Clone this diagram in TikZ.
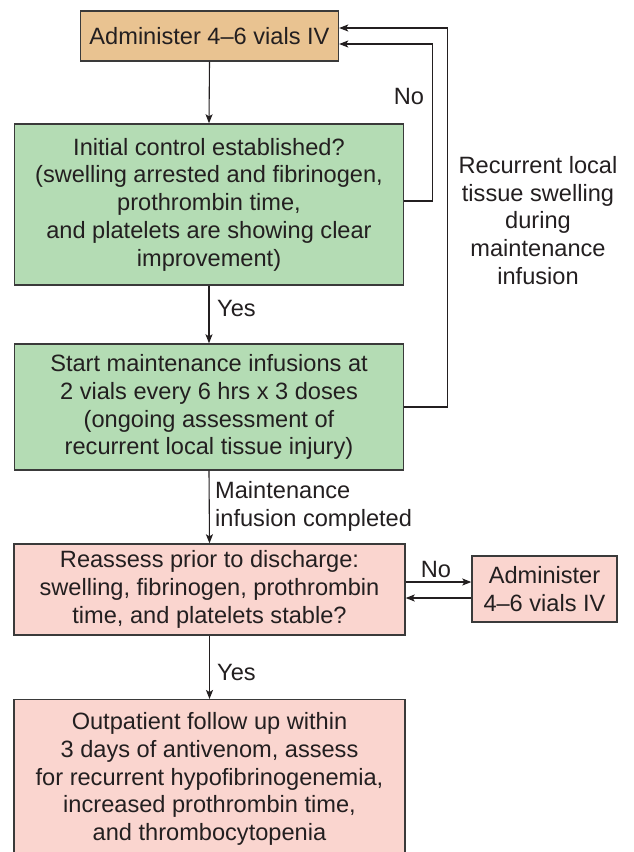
\documentclass[tikz,border=0pt]{standalone}
\usepackage{fontspec}
\setmainfont{Liberation Sans}
\usetikzlibrary{arrows.meta,calc}
\definecolor{orangefill}{HTML}{E9C391}
\definecolor{greenfill}{HTML}{B4DCB4}
\definecolor{pinkfill}{HTML}{FAD5CF}
\definecolor{ink}{HTML}{231F20}
\definecolor{edge}{HTML}{3A3A3A}
\begin{document}
\begin{tikzpicture}[x=1pt,y=-1pt,
  every node/.style={text=ink,font=\fontsize{23.6}{27.8}\selectfont},
  box/.style={draw=edge,line width=1.4pt,inner sep=0pt,align=center,minimum width=#1},
  arr/.style={draw=ink,line width=1.1pt,-{Stealth[length=9pt,width=7pt,inset=2pt]}},
  lbl/.style={inner sep=0pt}
]
\useasboundingbox (0,0) rectangle (633,852);
\clip (0,0) rectangle (633,852);
\node[box=258pt,fill=orangefill,minimum height=50pt] (b1) at (209.5,36) {Administer 4–6 vials IV};
\node[box=389pt,fill=greenfill,minimum height=161pt] (b2) at (209,204.5) {Initial control established?\\(swelling arrested and fibrinogen,\\prothrombin time,\\and platelets are showing clear\\improvement)};
\node[box=389pt,fill=greenfill,minimum height=126pt] (b3) at (209,407) {Start maintenance infusions at\\2 vials every 6 hrs x 3 doses\\(ongoing assessment of\\recurrent local tissue injury)};
\node[box=391pt,fill=pinkfill,minimum height=91pt] (b4) at (209.5,589.5) {Reassess prior to discharge:\\swelling, fibrinogen, prothrombin\\time, and platelets stable?};
\node[box=145pt,fill=pinkfill,minimum height=66pt] (b5) at (544.5,589) {Administer\\4–6 vials IV};
\node[box=391pt,fill=pinkfill,minimum height=161pt,anchor=north] (b6) at (209.5,699) {};
\node[lbl,align=center] (b6t) at (209.5,779) {Outpatient follow up within\\3 days of antivenom, assess\\for recurrent hypofibrinogenemia,\\increased prothrombin time,\\and thrombocytopenia};

\draw[arr] (b1.south) -- (b2.north);
\draw[arr] (b2.south) -- (b3.north);
\draw[arr] (b3.south) -- (b4.north);
\draw[arr] (b4.south) -- (b6.north);

\draw[arr] ([yshift=3.5pt]b2.east) -- ++(28.5,0) |- ([yshift=-8pt]b1.east);
\draw[arr] (b3.east) -- ++(43,0) |- ([yshift=8pt]b1.east);

\draw[arr] ([yshift=7.5pt]b4.east) -- ([yshift=7pt]b5.west);
\draw[arr] ([yshift=-9pt]b5.west) -- ([yshift=-8.5pt]b4.east);

\node[lbl,anchor=west] (yes1) at (217,308) {Yes};
\node[lbl,anchor=west] (yes2) at (217,672) {Yes};
\node[lbl,anchor=west,align=left] (maint) at (215,506.5) {Maintenance\\infusion completed};
\node[lbl] (no1) at (409,96) {No};
\node[lbl] (no2) at (436,569) {No};
\node[lbl,align=center] (rec) at (538,220.5) {Recurrent local\\tissue swelling\\during\\maintenance\\infusion};
\end{tikzpicture}
\end{document}
